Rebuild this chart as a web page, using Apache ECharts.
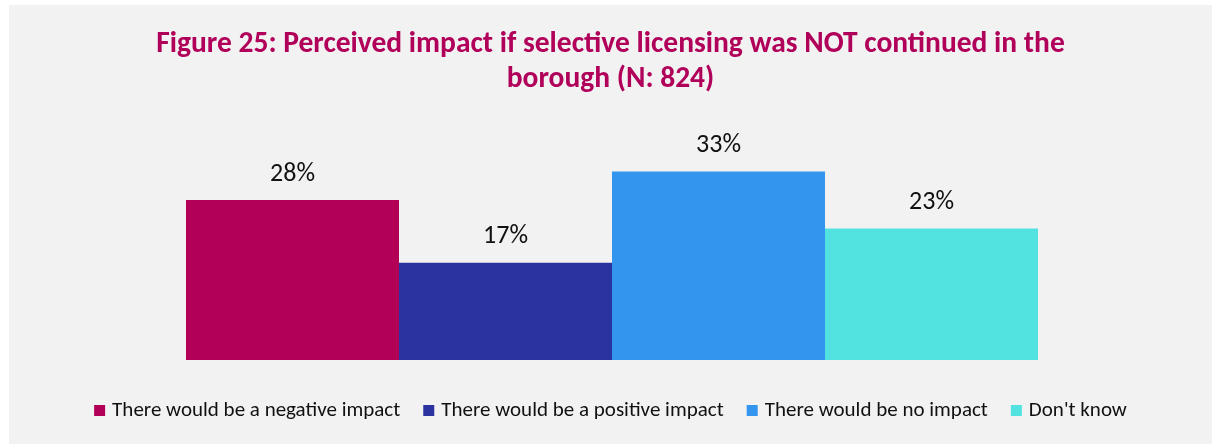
<!DOCTYPE html>
<html>
<head>
<meta charset="utf-8">
<script src="https://cdn.jsdelivr.net/npm/echarts@6/dist/echarts.min.js"></script>
<style>
  html, body { margin: 0; padding: 0; background: #ffffff; }
  #chart { position: absolute; left: 9px; top: 5px; width: 1203px; height: 439px; }
</style>
</head>
<body>
<div id="chart"></div>
<script>
// Survey responses: perceived impact if selective licensing stopped
const categories = ['Impact'];
const seriesNames = [
  'There would be a negative impact',
  'There would be a positive impact',
  'There would be no impact',
  "Don't know"
];
const seriesValues = [28, 17, 33, 23];
const seriesColors = ['#b30057', '#2a33a0', '#3395ee', '#52e3e1'];

const FONT = 'Carlito, Lato, "Open Sans", sans-serif';

const chart = echarts.init(document.getElementById('chart'));

const series = seriesNames.map((name, i) => ({
  name: name,
  type: 'bar',
  data: [seriesValues[i]],
  barGap: '0%',
  barCategoryGap: '0%',
  itemStyle: { color: seriesColors[i] },
  label: {
    show: true,
    position: 'top',
    distance: 13,
    formatter: '{c}%',
    color: '#111111',
    fontFamily: FONT,
    fontSize: 26
  }
}));

chart.setOption({
  backgroundColor: '#f2f2f2',
  animation: false,
  title: {
    text: 'Figure 25: Perceived impact if selective licensing was NOT continued in the\nborough (N: 824)',
    left: 'center',
    top: 17,
    textStyle: {
      color: '#b0005a',
      fontFamily: FONT,
      fontWeight: 'bold',
      fontSize: 29.5,
      lineHeight: 35
    }
  },
  legend: {
    top: 390,
    left: 'center',
    itemWidth: 11,
    itemHeight: 11,
    itemGap: 23,
    icon: 'rect',
    textStyle: {
      color: '#111111',
      fontFamily: FONT,
      fontSize: 21,
      padding: [0, 0, 0, 2]
    },
    data: seriesNames
  },
  grid: {
    left: 177,
    width: 852,
    top: 155,
    bottom: 84
  },
  xAxis: {
    type: 'category',
    data: categories,
    show: false
  },
  yAxis: {
    type: 'value',
    min: 0,
    max: 35,
    show: false
  },
  series: series
});
</script>
</body>
</html>
